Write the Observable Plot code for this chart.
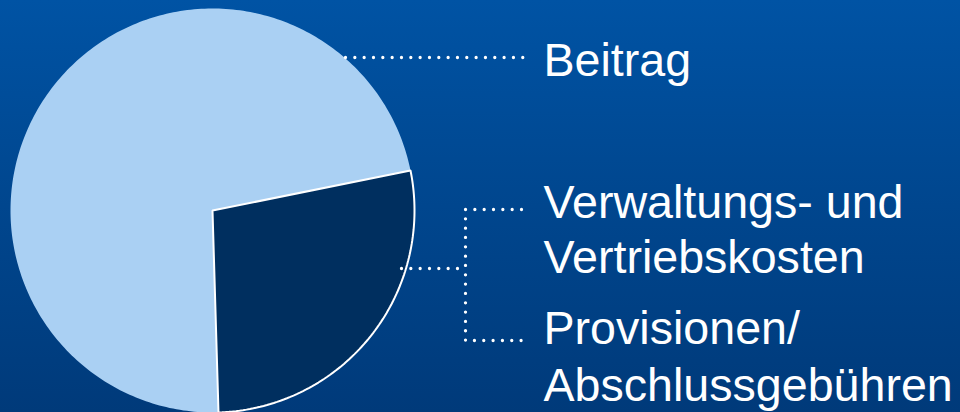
<!DOCTYPE html>
<html>
<head>
<meta charset="utf-8">
<script src="https://cdn.jsdelivr.net/npm/d3@7"></script>
<script src="https://cdn.jsdelivr.net/npm/@observablehq/plot@0.6"></script>
<style>
  html, body { margin: 0; padding: 0; background: #00468e; }
  #chart svg { display: block; }
</style>
</head>
<body>
<div id="chart"></div>
<script>
// ---- data ----
const categories = ["Beitrag", "Verwaltungs- und Vertriebskosten / Provisionen"];
const shares = [72.3, 27.7];
const sliceColors = ["#aad0f3", "#002f5f"];
const labelLines = ["Beitrag", "Verwaltungs- und", "Vertriebskosten", "Provisionen/", "Abschlussgebühren"];
const labelBaselines = [75, 217, 272, 343, 400];

// ---- layout ----
const W = 960, H = 412;
const cx = 212, cy = 210, R = 202;
const startDeg = 178.3;

const pie = d3.pie().sort(null).startAngle(startDeg * Math.PI / 180).endAngle((startDeg + 360) * Math.PI / 180);
const arcs = pie(shares);

// polygon points for each slice (angles measured clockwise from 12 o'clock)
const slicePts = [];
arcs.forEach((a, i) => {
  slicePts.push({cat: categories[i], x: cx, y: cy});
  const n = Math.max(8, Math.ceil((a.endAngle - a.startAngle) * 180 / Math.PI));
  for (let k = 0; k <= n; k++) {
    const t = a.startAngle + (a.endAngle - a.startAngle) * k / n;
    slicePts.push({cat: categories[i], x: cx + R * Math.sin(t), y: cy - R * Math.cos(t)});
  }
});

// leader lines
const leaders = [
  {id: "b", pts: [[345, 57], [523, 57]]},
  {id: "m", pts: [[401, 268], [465, 268]]},
  {id: "k", pts: [[521, 209], [465, 209], [465, 340], [521, 340]]}
].flatMap(l => l.pts.map(([x, y]) => ({id: l.id, x, y})));

const labels = labelLines.map((t, i) => ({text: t, x: 543, y: labelBaselines[i]}));

const chart = Plot.plot({
  width: W,
  height: H,
  margin: 0,
  x: {domain: [0, W], range: [0, W], axis: null},
  y: {domain: [0, H], range: [0, H], axis: null},
  color: {domain: categories, range: sliceColors},
  style: {background: "linear-gradient(to bottom, #0053a4 0%, #00468e 50%, #003a7a 100%)", overflow: "hidden"},
  marks: [
    Plot.line(slicePts.filter(d => d.cat === categories[0]), {x: "x", y: "y", z: "cat", fill: "cat", stroke: "none", curve: "linear-closed"}),
    Plot.line(slicePts.filter(d => d.cat === categories[1]), {x: "x", y: "y", z: "cat", fill: "cat", stroke: "white", strokeWidth: 2, curve: "linear-closed", strokeLinejoin: "miter"}),
    Plot.line(leaders, {x: "x", y: "y", z: "id", stroke: "white", strokeWidth: 3.3, strokeDasharray: "0 9.33", strokeLinecap: "round", strokeLinejoin: "round"}),
    Plot.text(labels, {x: "x", y: "y", text: "text", textAnchor: "start", lineAnchor: "bottom", fill: "white", fontSize: 46.6, fontFamily: "'Liberation Sans', Arial, sans-serif"})
  ]
});
document.getElementById("chart").appendChild(chart);
</script>
</body>
</html>
